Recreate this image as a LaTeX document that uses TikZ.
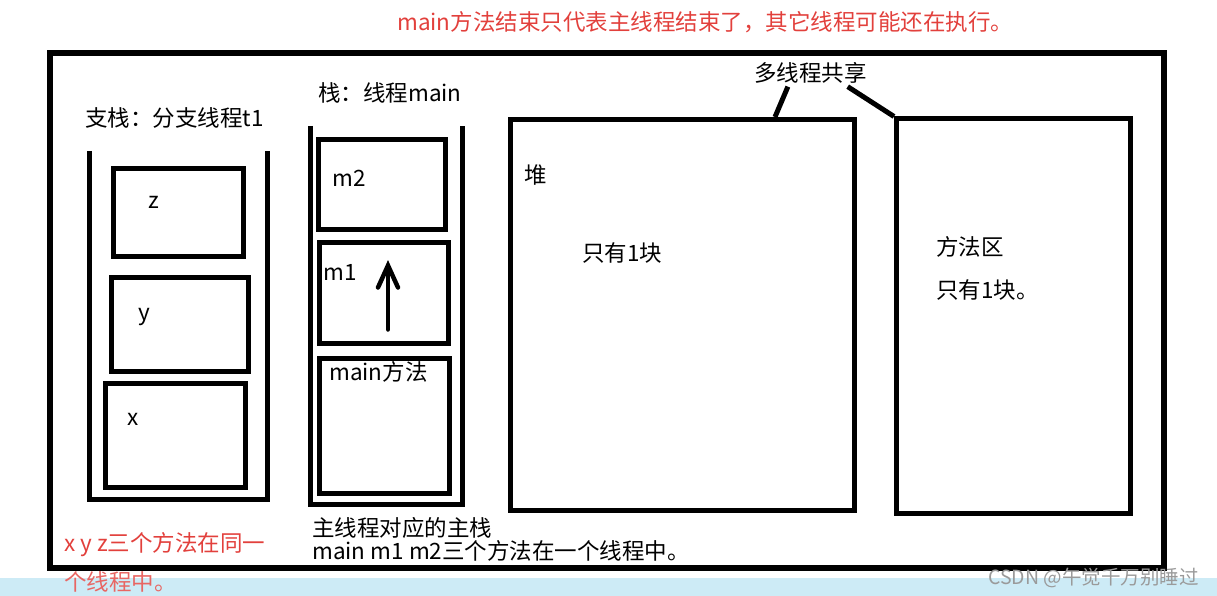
\documentclass[tikz,border=0pt]{standalone}
\usepackage{fontspec}
\setmainfont{Noto Sans CJK SC}
\usetikzlibrary{arrows.meta, positioning, calc}
\definecolor{notered}{HTML}{E2403C}
\definecolor{bandblue}{HTML}{CDEBF6}
\definecolor{marktext}{HTML}{9A9A9A}

\begin{document}
\begin{tikzpicture}[x=1pt, y=-1pt,
  box/.style={draw, line width=5pt, inner sep=0pt},
  wall/.style={draw, line width=5pt},
  lbl/.style={anchor=west, inner sep=0pt, font=\fontsize{22.5}{27}\selectfont},
  note/.style={lbl, text=notered},
  arr/.style={line width=4.5pt, line cap=round, line join=miter},
]
  \useasboundingbox (0,0) rectangle (1217,596);
  \fill[bandblue] (0,578) rectangle (1217,596);

  % outer frame
  \node[box, line width=6pt, minimum width=1114pt, minimum height=515pt] (outer) at (607,310.5) {};
  \node[note] (title) at (397,22) {main方法结束只代表主线程结束了，其它线程可能还在执行。};

  % branch stack t1
  \draw[wall] (89,151) -- (89,499) -- (267,499) -- (267,151);
  \node[lbl] (t1lbl) at (85,118) {支栈：分支线程t1};
  \node[box, minimum width=130pt, minimum height=87pt] (z) at (178,212.5) {};
  \node[box, minimum width=137pt, minimum height=94pt] (y) at (180,324) {};
  \node[box, minimum width=140pt, minimum height=104pt] (x) at (175,435) {};
  \node[lbl] at (148,202) {z};
  \node[lbl] at (138,317) {y};
  \node[lbl] at (127,419) {x};

  % main stack
  \draw[wall] (310,126) -- (310,504) -- (462,504) -- (462,126);
  \node[lbl] (mainlbl) at (318,93) {栈：线程main};
  \node[box, minimum width=127pt, minimum height=89pt] (m2) at (382,184.5) {};
  \node[box, minimum width=129pt, minimum height=101pt] (m1) at (384,292.5) {};
  \node[box, minimum width=130pt, minimum height=135pt] (mainm) at (384.5,425.5) {};
  \node[lbl] at (332,178) {m2};
  \node[lbl] at (323,272) {m1};
  \node[lbl] at (329,372) {main方法};
  % push arrow
  \coordinate (pushtip) at ($(m1.north)+(4,26)$);
  \draw[arr] ($(m1.south)+(4,-16)$) -- (pushtip);
  \draw[arr] ($(pushtip)+(-10,22)$) -- (pushtip) -- ($(pushtip)+(10,22)$);

  % shared areas
  \node[box, minimum width=344pt, minimum height=391pt] (heap) at (682.5,315) {};
  \node[box, minimum width=234pt, minimum height=394pt] (method) at (1013.5,316) {};
  \node[lbl] at (524,175) {堆};
  \node[lbl] at (582,253) {只有1块};
  \node[lbl] at (936,247) {方法区};
  \node[lbl] at (936,290) {只有1块。};
  \node[lbl] (share) at (754,73) {多线程共享};
  \draw[line width=5pt] ($(share.south west)!0.3!(share.south east)+(0,3)$) -- ($(heap.north west)!0.765!(heap.north east)$);
  \draw[line width=5pt] ($(share.south west)!0.83!(share.south east)+(0,3)$) -- (method.north west);

  % notes at the bottom
  \node[lbl] (mainnote) at (312,528) {主线程对应的主栈};
  \node[lbl, below=2pt of mainnote.south west, anchor=north west] {main m1 m2三个方法在一个线程中。};
  \node[note] (xyznote) at (64,545) {x y z三个方法在同一};
  \node[note, text=notered!80] at (64,582) {个线程中。};
  \node[lbl, text=marktext, font=\fontsize{19.5}{22}\selectfont] at (988,578) {CSDN @午觉千万别睡过};
\end{tikzpicture}
\end{document}
